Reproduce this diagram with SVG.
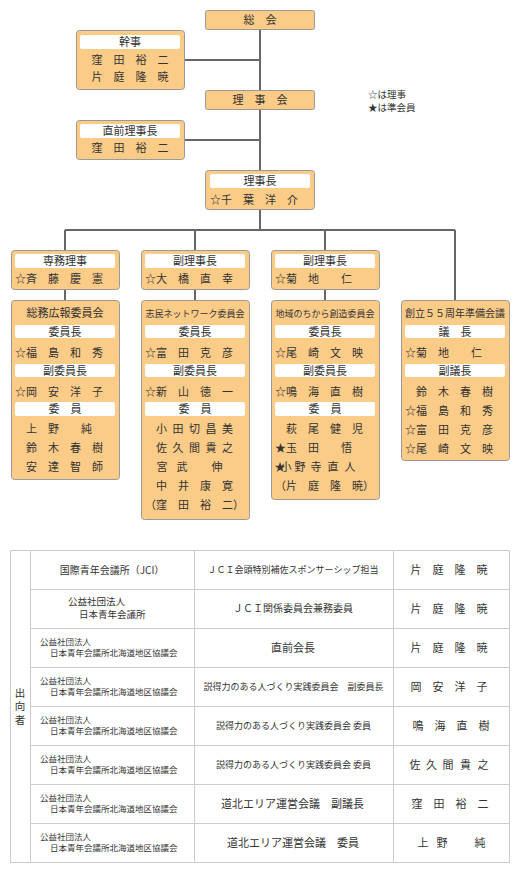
<svg xmlns="http://www.w3.org/2000/svg" width="520" height="880" viewBox="0 0 520 880">
<style>
.box{fill:#FBCB88;stroke:#999;stroke-width:1}
.hdr{fill:#fff}
text{font-family:"Noto Sans CJK JP","Noto Sans CJK SC",sans-serif;font-size:11px;fill:#333}
.c{text-anchor:middle}
.s8{font-size:8.5px}
.s9{font-size:9px}
.s95{font-size:9.5px}
.s10{font-size:10px}
.s105{font-size:10.5px}
.conn{stroke:#666;stroke-width:2;fill:none}
.grid{stroke:#ccc;stroke-width:1;fill:none}
</style>
<rect width="520" height="880" fill="#fff"/>
<g id="connectors" class="conn">
<path d="M260 29V90M184 60H260M260 110V170M184 140H260M260 210V230M65 230H455M65 230V250M195 230V250M325 230V250M455 230V300M65 290V300M195 290V300M325 290V300"/>
</g>
<g id="soukai"><rect class="box" x="205.5" y="10.5" width="109" height="19" rx="2"/><text class="c" x="260" y="23.5">総　会</text></g>
<g id="kanji"><rect class="box" x="76.5" y="30.5" width="108" height="59" rx="3"/><rect class="hdr" x="80" y="35" width="100" height="14" rx="2"/><text class="c" x="130" y="46">幹事</text><text class="c" x="130" y="64">窪　田　裕　二</text><text class="c" x="130" y="81">片　庭　隆　暁</text></g>
<g id="rijikai"><rect class="box" x="205.5" y="90.5" width="109" height="19" rx="2"/><text class="c" x="260" y="103.5">理　事　会</text></g>
<g id="legend"><text class="s95" x="368" y="98">☆は理事</text><text class="s95" x="368" y="110.5">★は準会員</text></g>
<g id="zenrijicho"><rect class="box" x="76.5" y="120.5" width="108" height="39" rx="3"/><rect class="hdr" x="80" y="124" width="100" height="14" rx="2"/><text class="c" x="130" y="135">直前理事長</text><text class="c" x="130" y="152">窪　田　裕　二</text></g>
<g id="rijicho"><rect class="box" x="205.5" y="170.5" width="109" height="39" rx="3"/><rect class="hdr" x="210" y="174" width="100" height="14" rx="2"/><text class="c" x="260" y="185">理事長</text><text x="210" y="203.5">☆千　葉　洋　介</text></g>
<g id="senmu"><rect class="box" x="11.5" y="250.5" width="108" height="39" rx="3"/><rect class="hdr" x="15" y="254" width="100" height="14" rx="2"/><text class="c" x="65" y="265">専務理事</text><text x="15" y="282.5">☆斉　藤　慶　憲</text></g>
<g id="fukurijicho1"><rect class="box" x="141.5" y="250.5" width="108" height="39" rx="3"/><rect class="hdr" x="145" y="254" width="100" height="14" rx="2"/><text class="c" x="195" y="265">副理事長</text><text x="145" y="282.5">☆大　橋　直　幸</text></g>
<g id="fukurijicho2"><rect class="box" x="271.5" y="250.5" width="108" height="39" rx="3"/><rect class="hdr" x="275" y="254" width="100" height="14" rx="2"/><text class="c" x="325" y="265">副理事長</text><text x="275" y="282.5">☆菊　地　　仁</text></g>
<g id="soumu"><rect class="box" x="11.5" y="300.5" width="108" height="179" rx="3"/><text class="c" x="65" y="317">総務広報委員会</text>
<rect class="hdr" x="15" y="325" width="100" height="13" rx="2"/><text class="c" x="65" y="335.5">委員長</text><text x="15" y="357">☆福　島　和　秀</text>
<rect class="hdr" x="15" y="364" width="100" height="13" rx="2"/><text class="c" x="65" y="374.5">副委員長</text><text x="15" y="395.5">☆岡　安　洋　子</text>
<rect class="hdr" x="15" y="402" width="100" height="14" rx="2"/><text class="c" x="65" y="413">委　員</text>
<text x="26" y="433">上　野　　純</text><text x="26" y="452">鈴　木　春　樹</text><text x="26" y="471">安　達　智　師</text></g>
<g id="shimin"><rect class="box" x="141.5" y="300.5" width="108" height="219" rx="3"/><text class="c s9" x="195" y="316.5">志民ネットワーク委員会</text>
<rect class="hdr" x="145" y="325" width="100" height="13" rx="2"/><text class="c" x="195" y="335.5">委員長</text><text x="145" y="357">☆富　田　克　彦</text>
<rect class="hdr" x="145" y="364" width="100" height="13" rx="2"/><text class="c" x="195" y="374.5">副委員長</text><text x="145" y="395.5">☆新　山　徳　一</text>
<rect class="hdr" x="145" y="402" width="100" height="14" rx="2"/><text class="c" x="195" y="413">委　員</text>
<text class="c" x="161.5 170 178 186 194.5 203 211 219 227.5" y="433">小 田 切 昌 美</text>
<text class="c" x="161.5 170 178 186 194.5 203 211 219 227.5" y="452">佐 久 間 貴 之</text>
<text class="c" x="162 172 182 194 205 217" y="471">宮　武　　伸</text>
<text x="156" y="490">中　井　康　寛</text><text x="145" y="509">（窪　田　裕　二）</text></g>
<g id="chiiki"><rect class="box" x="271.5" y="300.5" width="108" height="199" rx="3"/><text class="c s9" x="325" y="316.5">地域のちから創造委員会</text>
<rect class="hdr" x="275" y="325" width="100" height="13" rx="2"/><text class="c" x="325" y="335.5">委員長</text><text x="275" y="357">☆尾　崎　文　映</text>
<rect class="hdr" x="275" y="364" width="100" height="13" rx="2"/><text class="c" x="325" y="374.5">副委員長</text><text x="275" y="395.5">☆鳴　海　直　樹</text>
<rect class="hdr" x="275" y="402" width="100" height="14" rx="2"/><text class="c" x="325" y="413">委　員</text>
<text x="286" y="433">萩　尾　健　児</text><text x="275" y="452">★玉　田　　悟</text>
<text class="c" x="280 286 292 300 308 316 324.5 333 341.5 350 358" y="471">★小 野 寺 直 人</text>
<text x="275" y="490">（片　庭　隆　暁）</text></g>
<g id="souritsu"><rect class="box" x="401.5" y="300.5" width="108" height="160" rx="3"/><text class="c s10" x="455" y="317">創立５５周年準備会議</text>
<rect class="hdr" x="405" y="325" width="100" height="13" rx="2"/><text class="c" x="455" y="335.5">議　長</text><text x="405" y="357">☆菊　地　　仁</text>
<rect class="hdr" x="405" y="364" width="100" height="13" rx="2"/><text class="c" x="455" y="374.5">副議長</text>
<text x="416" y="395.5">鈴　木　春　樹</text><text x="405" y="414.5">☆福　島　和　秀</text><text x="405" y="433.5">☆富　田　克　彦</text><text x="405" y="452.5">☆尾　崎　文　映</text></g>
<g id="table">
<rect class="grid" x="10.5" y="550.5" width="499" height="312"/>
<path class="grid" d="M30.5 550V863M194.5 550V863M393.5 550V863M30 589.5H510M30 628.5H510M30 667.5H510M30 706.5H510M30 745.5H510M30 784.5H510M30 823.5H510"/>
<text class="c s105" x="20" y="696.5">出</text><text class="c s105" x="20" y="710">向</text><text class="c s105" x="20" y="723.5">者</text>
<text class="c s10" x="112" y="573.5">国際青年会議所（JCI）</text>
<text class="c s9" x="293" y="572.5">ＪＣＩ会頭特別補佐スポンサーシップ担当</text>
<text class="c" x="449" y="573.5">片　庭　隆　暁</text>
<text class="s95" x="68" y="604.5">公益社団法人</text><text class="s95" x="79" y="617.5">日本青年会議所</text>
<text class="c s10" x="293" y="612">ＪＣＩ関係委員会兼務委員</text>
<text class="c" x="449" y="612.5">片　庭　隆　暁</text>
<text class="s8" x="40" y="645">公益社団法人</text><text class="s8" x="50" y="655.5">日本青年会議所北海道地区協議会</text>
<text class="c" x="293" y="651.5">直前会長</text>
<text class="c" x="449" y="651.5">片　庭　隆　暁</text>
<text class="s8" x="40" y="684">公益社団法人</text><text class="s8" x="50" y="694.5">日本青年会議所北海道地区協議会</text>
<text class="c s9" x="293.5" y="689.5">説得力のある人づくり実践委員会　副委員長</text>
<text class="c" x="449" y="690.5">岡　安　洋　子</text>
<text class="s8" x="40" y="723">公益社団法人</text><text class="s8" x="50" y="733.5">日本青年会議所北海道地区協議会</text>
<text class="c s9" x="293.5" y="728.5">説得力のある人づくり実践委員会 委員</text>
<text class="c" x="451" y="729.5">鳴　海　直　樹</text>
<text class="s8" x="40" y="762">公益社団法人</text><text class="s8" x="50" y="772.5">日本青年会議所北海道地区協議会</text>
<text class="c s9" x="293.5" y="767.5">説得力のある人づくり実践委員会 委員</text>
<text class="c" x="415 423 431.5 440 448 456.5 465.5 474 483" y="768.5">佐 久 間 貴 之</text>
<text class="s8" x="40" y="801">公益社団法人</text><text class="s8" x="50" y="811.5">日本青年会議所北海道地区協議会</text>
<text class="c" x="292.5" y="807.5">道北エリア運営会議　副議長</text>
<text class="c" x="450" y="807.5">窪　田　裕　二</text>
<text class="s8" x="40" y="840">公益社団法人</text><text class="s8" x="50" y="850.5">日本青年会議所北海道地区協議会</text>
<text class="c" x="293" y="846.5">道北エリア運営会議　委員</text>
<text class="c" x="423 432.5 442 455 467.5 480" y="846.5">上　野　　純</text>
</g>
</svg>
